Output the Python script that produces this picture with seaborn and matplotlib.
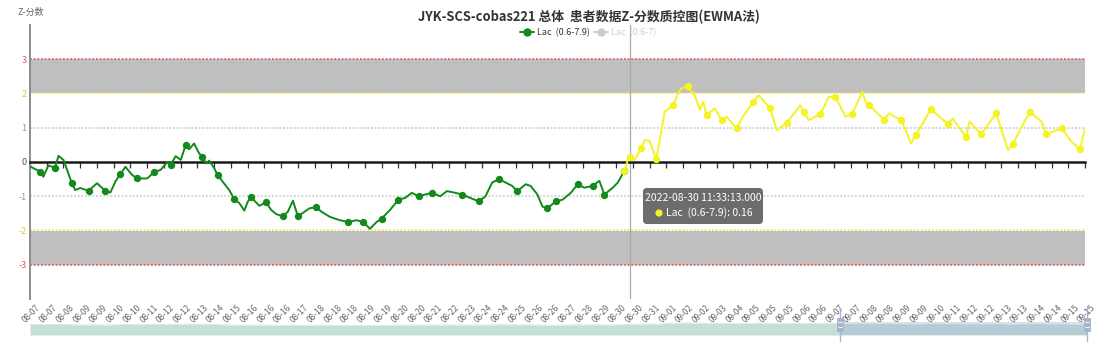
import numpy as np
import pandas as pd
import matplotlib
matplotlib.use("Agg")
import matplotlib.pyplot as plt
import seaborn as sns
from matplotlib.patches import FancyBboxPatch, Rectangle
from matplotlib.lines import Line2D
from matplotlib.transforms import IdentityTransform, ScaledTranslation

# ---------------- data ----------------
dates = ["08-07", "08-07", "08-08", "08-09", "08-09", "08-10", "08-10", "08-11", "08-12", "08-12",
         "08-13", "08-14", "08-15", "08-16", "08-16", "08-16", "08-17", "08-18", "08-18", "08-18",
         "08-19", "08-19", "08-20", "08-20", "08-21", "08-22", "08-23", "08-24", "08-24", "08-25",
         "08-26", "08-26", "08-27", "08-28", "08-29", "08-30", "08-30", "08-31", "09-01", "09-02",
         "09-02", "09-03", "09-04", "09-05", "09-05", "09-05", "09-06", "09-06", "09-07", "09-07",
         "09-08", "09-08", "09-09", "09-09", "09-10", "09-11", "09-12", "09-12", "09-13", "09-13",
         "09-14", "09-14", "09-15", "09-15"]
samples_per_tick = 10

sample = [0, 6, 8, 11, 15, 17, 20, 25, 27, 30, 35, 40, 45, 48, 51, 54, 57, 61, 64, 70,
          74, 78, 82, 84, 87, 90, 93, 95, 98, 101, 103, 105, 107, 110, 112, 115, 119, 122, 125, 128,
          130, 132, 137, 141, 144, 147, 151, 154, 157, 160, 164, 167, 171, 174, 179, 185, 190, 195, 199, 203,
          207, 210, 215, 220, 224, 228, 232, 236, 240, 245, 249, 254, 258, 263, 268, 272, 276, 280, 284, 288,
          291, 296, 299, 303, 306, 309, 314, 318, 323, 327, 331, 336, 340, 343, 348, 351, 355,
          357, 358, 361, 365, 367, 370, 374, 379, 384, 387, 389, 393, 395, 397, 400, 402, 404, 409,
          413, 416, 422, 425, 432, 435, 442, 446, 452, 460, 462, 465, 472, 477, 481, 484, 487, 491,
          497, 499, 501, 510, 513, 520, 523, 526, 529, 538, 548, 551, 559, 561, 568, 577, 584, 587,
          597, 604, 607, 616, 622, 627, 630]
zscore = [-0.13, -0.28, -0.43, -0.10, -0.17, 0.18, 0.06, -0.62, -0.82, -0.76, -0.84, -0.62, -0.84, -0.89, -0.57, -0.35, -0.14, -0.38, -0.48, -0.48,
          -0.30, -0.23, 0.00, -0.08, 0.17, 0.06, 0.50, 0.37, 0.54, 0.25, 0.16, -0.04, 0.04, -0.18, -0.38, -0.57, -0.82, -1.09, -1.20, -1.42,
          -1.16, -1.03, -1.28, -1.17, -1.40, -1.52, -1.59, -1.45, -1.13, -1.59, -1.45, -1.35, -1.32, -1.45, -1.60, -1.70, -1.75, -1.70, -1.75, -1.95,
          -1.75, -1.65, -1.40, -1.10, -1.05, -0.90, -1.00, -0.95, -0.90, -1.00, -0.85, -0.90, -0.95, -1.05, -1.15, -1.00, -0.60, -0.50, -0.60, -0.70,
          -0.85, -0.65, -0.70, -0.95, -1.30, -1.35, -1.15, -1.10, -0.90, -0.65, -0.75, -0.70, -0.55, -0.95, -0.75, -0.60, -0.25,
          0.06, 0.16, 0.06, 0.40, 0.64, 0.62, 0.08, 1.47, 1.66, 2.00, 2.15, 2.22, 2.05, 1.95, 1.52, 1.76, 1.37, 1.57,
          1.22, 1.32, 0.98, 1.27, 1.76, 1.95, 1.57, 0.93, 1.15, 1.66, 1.47, 1.22, 1.40, 1.90, 1.90, 1.61, 1.32, 1.40,
          2.05, 1.76, 1.66, 1.24, 1.42, 1.22, 0.93, 0.54, 0.79, 1.54, 1.11, 1.27, 0.72, 1.18, 0.82, 1.42, 0.35, 0.54,
          1.47, 1.18, 0.82, 0.98, 0.59, 0.37, 0.98]
marked = [0, 1, 0, 0, 1, 0, 0, 1, 0, 0, 1, 0, 1, 0, 0, 1, 0, 0, 1, 0,
          1, 0, 0, 1, 0, 0, 1, 0, 0, 0, 1, 0, 0, 0, 1, 0, 0, 1, 0, 0,
          0, 1, 0, 1, 0, 0, 1, 0, 0, 1, 0, 0, 1, 0, 0, 0, 1, 0, 1, 0,
          0, 1, 0, 1, 0, 0, 1, 0, 1, 0, 0, 0, 1, 0, 1, 0, 0, 1, 0, 0,
          1, 0, 0, 0, 0, 1, 1, 0, 0, 1, 0, 1, 0, 1, 0, 0, 1,
          0, 1, 0, 1, 0, 0, 1, 0, 1, 0, 0, 1, 0, 0, 0, 0, 1, 0,
          1, 0, 1, 0, 1, 0, 1, 0, 1, 0, 1, 0, 1, 0, 1, 0, 0, 1,
          0, 0, 1, 1, 0, 1, 0, 0, 1, 1, 1, 0, 1, 0, 1, 1, 0, 1,
          1, 0, 1, 1, 0, 1, 0]
split_sample = 355          # colour switches from green to yellow here
pointer_sample = 358        # tooltip / axis pointer position
tooltip_time = "2022-08-30 11:33:13.000"
tooltip_value = 0.16

series_name = "Lac  (0.6-7.9)"
series2_name = "Lac  (0.6-7)"
title = "JYK-SCS-cobas221 总体  患者数据Z-分数质控图(EWMA法)"

df = pd.DataFrame({"sample": sample, "z": zscore, "mark": marked})
green_df = df[df["sample"] <= split_sample]
yellow_df = df[df["sample"] >= split_sample]

# ---------------- style ----------------
sns.set_theme(style="white")
plt.rcParams['font.family'] = ['Noto Sans CJK SC', 'DejaVu Sans']

GREEN = "#12891a"
YELLOW = "#f6f323"
W, H = 1105, 353
fig = plt.figure(figsize=(W / 100, H / 100), dpi=100)
ax = fig.add_axes([30 / W, 1 - 299 / H, (1085 - 30) / W, (299 - 25) / H])

n_max = (len(dates) - 1) * samples_per_tick
ax.set_xlim(0, n_max)
ax.set_ylim(-4, 4)

# control bands and limit lines
ax.axhspan(2, 3, color="#bfbfbf", lw=0, zorder=0)
ax.axhspan(-3, -2, color="#bfbfbf", lw=0, zorder=0)
for yv, c in [(3, "#e05050"), (-3, "#e05050"), (2, "#eedc55"), (-2, "#eedc55"),
              (1, "#c8c8c8"), (-1, "#c8c8c8")]:
    ax.axhline(yv, color=c, lw=1.1, ls=(0, (1.2, 1.2)), zorder=1)

# axis pointer
ax.axvline(pointer_sample, color="#aaaaaa", lw=0.9, zorder=1.5)

# data lines
sns.lineplot(data=green_df, x="sample", y="z", ax=ax, color=GREEN, lw=1.4, zorder=4, legend=False)
sns.lineplot(data=yellow_df, x="sample", y="z", ax=ax, color=YELLOW, lw=1.4, zorder=4, legend=False)
gm = green_df[green_df["mark"] == 1]
ym = yellow_df[yellow_df["mark"] == 1]
sns.scatterplot(data=gm, x="sample", y="z", ax=ax, color=GREEN, s=28, linewidth=0, zorder=5, legend=False)
sns.scatterplot(data=ym, x="sample", y="z", ax=ax, color=YELLOW, s=28, linewidth=0, zorder=5, legend=False)

ax.set_xlabel("")
ax.set_ylabel("")

# spines
for s in ["top", "right"]:
    ax.spines[s].set_visible(False)
ax.spines["left"].set_color("#8c8c8c")
ax.spines["left"].set_linewidth(1.4)
ax.spines["bottom"].set_position(("data", 0))
ax.spines["bottom"].set_color("#1a1a1a")
ax.spines["bottom"].set_linewidth(1.8)
ax.spines["bottom"].set_zorder(3)

ticks = np.arange(len(dates)) * samples_per_tick
ax.set_xticks(ticks)
ax.tick_params(axis="x", direction="out", length=4, width=0.9, color="#333333",
               labelbottom=False, bottom=True)

yt = [3, 2, 1, 0, -1, -2, -3]
ycols = ["#e0555a", "#e2c43a", "#999999", "#555555", "#999999", "#e2c43a", "#e0555a"]
ax.set_yticks(yt)
ax.set_yticklabels([str(v) for v in yt])
ax.tick_params(axis="y", length=0, pad=2.5, labelsize=6.5)
for lab, c in zip(ax.get_yticklabels(), ycols):
    lab.set_color(c)

sec = ax.secondary_xaxis(0)
sec.set_xticks(ticks)
sec.set_xticklabels(dates, rotation=45, ha="right", va="top", rotation_mode="anchor",
                    fontsize=6, color="#666666")
sec.tick_params(length=0, pad=3)
sec.spines["bottom"].set_visible(False)
shift = ScaledTranslation(6 / 100, 0, fig.dpi_scale_trans)
for lab in sec.get_xticklabels():
    lab.set_transform(lab.get_transform() + shift)

# title, axis name, legend
fig.text(589 / W, 1 - 17 / H, title, ha="center", va="center", fontsize=9.3,
         fontweight="bold", color="#333333")
fig.text(17 / W, 1 - 12 / H, "Z-分数", ha="left", va="center", fontsize=6.5, color="#666666")

h1 = Line2D([], [], color=GREEN, lw=1.4, marker="o", markersize=5)
h2 = Line2D([], [], color="#cccccc", lw=1.4, marker="o", markersize=5)
leg = fig.legend([h1, h2], [series_name, series2_name], loc="center",
                 bbox_to_anchor=(588 / W, 1 - 33 / H), ncol=2, frameon=False,
                 fontsize=6.5, handlelength=1.6, handletextpad=0.3, columnspacing=0.4,
                 borderpad=0)
leg.get_texts()[0].set_color("#333333")
leg.get_texts()[1].set_color("#cccccc")

# tooltip (pixel coordinates, origin bottom-left)
tt = IdentityTransform()
box = FancyBboxPatch((643, H - 224), 120, 36, boxstyle="round,pad=0,rounding_size=4",
                     transform=tt, facecolor="#5f5f5f", edgecolor="none", alpha=0.92,
                     figure=fig, zorder=10)
fig.patches.append(box)
fig.text(703 / W, 1 - 198 / H, tooltip_time, ha="center", va="center",
         fontsize=7.5, color="white", zorder=11)
fig.patches.append(matplotlib.patches.Circle((659, H - 213), 3.6, transform=tt,
                                             facecolor=YELLOW, edgecolor="none",
                                             figure=fig, zorder=11))
fig.text(666 / W, 1 - 213 / H, f"{series_name}: {tooltip_value}", ha="left", va="center",
         fontsize=7.5, color="white", zorder=11)

# data zoom slider
axz = fig.add_axes([30 / W, 1 - 335 / H, (1087 - 30) / W, 13 / H])
axz.set_xlim(0, n_max)
axz.set_ylim(0, 1)
axz.axis("off")
shadow_top = 0.82 + 0.05 * df["z"].to_numpy()
axz.fill_between(df["sample"], 0, shadow_top, color="#c4dfd6", lw=0)
axz.plot(df["sample"], shadow_top, color="#d5e8e2", lw=0.6)
sel0 = (840 - 30) / (1087 - 30) * n_max
axz.axvspan(sel0, n_max, color="#a9b9d6", alpha=0.45, lw=0)

for hx in (840, 1087):
    fig.lines.append(Line2D([hx, hx], [H - 341, H - 308], transform=tt, color="#a6b4cc",
                            lw=1.0, figure=fig))
    fig.patches.append(Rectangle((hx - 3.5, H - 332), 7, 14, transform=tt,
                                 facecolor="#a6b4cc", edgecolor="none", figure=fig))
    for dy in (322, 327):
        fig.lines.append(Line2D([hx - 2, hx + 2], [H - dy, H - dy], transform=tt,
                                color="white", lw=0.6, figure=fig))

fig.savefig("out.png", dpi=100)
